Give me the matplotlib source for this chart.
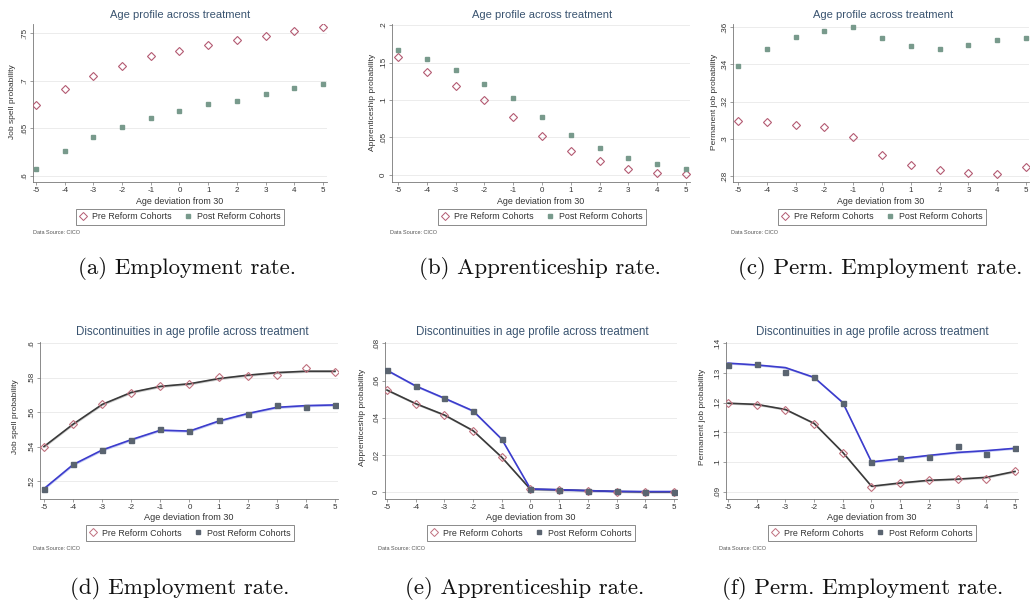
import matplotlib
matplotlib.use("Agg")
import matplotlib.pyplot as plt
from matplotlib.lines import Line2D

plt.rcParams['font.family'] = ['Liberation Sans', 'DejaVu Sans']
plt.rcParams['axes.unicode_minus'] = False

W, H = 1031, 606

ages = [-5, -4, -3, -2, -1, 0, 1, 2, 3, 4, 5]
xtick_labels = ["-5", "-4", "-3", "-2", "-1", "0", "1", "2", "3", "4", "5"]

# (a) Employment rate
emp_pre = [0.674, 0.691, 0.705, 0.7156, 0.726, 0.7314, 0.7374, 0.7423, 0.7472, 0.7525, 0.756]
emp_post = [0.607, 0.6258, 0.6405, 0.6514, 0.6612, 0.6682, 0.6753, 0.6791, 0.6855, 0.6928, 0.6966]
emp_yticks = [0.6, 0.65, 0.7, 0.75]
emp_ylabels = [".6", ".65", ".7", ".75"]

# (b) Apprenticeship rate
app_pre = [0.1577, 0.1374, 0.118, 0.100, 0.0774, 0.0517, 0.0324, 0.0189, 0.0085, 0.0031, 0.0014]
app_post = [0.1666, 0.155, 0.1405, 0.1216, 0.103, 0.0774, 0.053, 0.0355, 0.023, 0.0144, 0.0077]
app_yticks = [0, 0.05, 0.1, 0.15, 0.2]
app_ylabels = ["0", ".05", ".1", ".15", ".2"]

# (c) Permanent employment rate
perm_pre = [0.3097, 0.3088, 0.3074, 0.3065, 0.3011, 0.2913, 0.2857, 0.2831, 0.2818, 0.2812, 0.285]
perm_post = [0.3391, 0.3482, 0.3545, 0.358, 0.3602, 0.3539, 0.3498, 0.348, 0.3505, 0.3529, 0.3539]
perm_yticks = [0.28, 0.30, 0.32, 0.34, 0.36]
perm_ylabels = [".28", ".3", ".32", ".34", ".36"]

# (d) Discontinuities: employment
d_emp_pre = [0.540, 0.553, 0.565, 0.5712, 0.5751, 0.5762, 0.5807, 0.5813, 0.5816, 0.5855, 0.5836]
d_emp_post = [0.5153, 0.5297, 0.538, 0.5439, 0.5501, 0.5491, 0.5555, 0.559, 0.564, 0.5632, 0.5644]
d_emp_pre_fit = [0.540, 0.553, 0.5645, 0.5715, 0.575, 0.5765, 0.5795, 0.5815, 0.583, 0.5838, 0.5838]
d_emp_post_fit = [0.5155, 0.5295, 0.538, 0.544, 0.5495, 0.549, 0.5548, 0.5592, 0.5628, 0.5638, 0.5642]
d_emp_band = 0.0007
d_emp_yticks = [0.52, 0.54, 0.56, 0.58, 0.6]
d_emp_ylabels = [".52", ".54", ".56", ".58", ".6"]

# (e) Discontinuities: apprenticeship
d_app_pre = [0.0549, 0.0476, 0.0415, 0.0331, 0.0188, 0.0016, 0.0013, 0.0009, 0.0004, 0.0002, 0.0002]
d_app_post = [0.0655, 0.0571, 0.0505, 0.0437, 0.0285, 0.0018, 0.0014, 0.0009, 0.0005, 0.0004, 0.0004]
d_app_pre_fit = d_app_pre
d_app_post_fit = d_app_post
d_app_band = 0.0006
d_app_yticks = [0, 0.02, 0.04, 0.06, 0.08]
d_app_ylabels = ["0", ".02", ".04", ".06", ".08"]

# (f) Discontinuities: permanent employment
d_perm_pre = [0.1198, 0.1193, 0.1175, 0.1129, 0.1031, 0.0917, 0.093, 0.0939, 0.0944, 0.0943, 0.0969]
d_perm_post = [0.1328, 0.133, 0.1302, 0.1285, 0.1198, 0.0999, 0.1012, 0.1015, 0.1054, 0.1026, 0.1047]
d_perm_pre_fit = [0.1198, 0.1194, 0.1177, 0.113, 0.1032, 0.0918, 0.0929, 0.0938, 0.0942, 0.0948, 0.0968]
d_perm_post_fit = [0.1333, 0.1327, 0.1318, 0.1285, 0.120, 0.100, 0.1011, 0.1022, 0.1032, 0.1038, 0.1046]
d_perm_band = 0.00035
d_perm_yticks = [0.09, 0.10, 0.11, 0.12, 0.13, 0.14]
d_perm_ylabels = [".09", ".1", ".11", ".12", ".13", ".14"]

titles_top = "Age profile across treatment"
titles_bot = "Discontinuities in age profile across treatment"
xlabel = "Age deviation from 30"
legend_labels = ["Pre Reform Cohorts", "Post Reform Cohorts"]
source_text = "Data Source: CICO"
ylabels = ["Job spell probability", "Apprenticeship probability", "Permanent job probability"]
captions = ["(a) Employment rate.", "(b) Apprenticeship rate.", "(c) Perm. Employment rate.",
            "(d) Employment rate.", "(e) Apprenticeship rate.", "(f) Perm. Employment rate."]

PRE_C = '#b35a72'
POST_C = '#789a8c'
TITLE_C = '#3a5470'
TXT_C = '#333333'
AX_C = '#777777'

fig = plt.figure(figsize=(W / 100, H / 100), dpi=100)


def px_axes(left, right, top, bottom):
    return fig.add_axes([left / W, 1 - bottom / H, (right - left) / W, (bottom - top) / H])


def style_axes(ax, xlim, ylim, yticks, ylabs):
    ax.set_xlim(*xlim)
    ax.set_ylim(*ylim)
    ax.set_xticks(ages)
    ax.set_xticklabels(xtick_labels)
    ax.set_yticks(yticks)
    ax.set_yticklabels(ylabs, rotation=90, va='center')
    for s in ['top', 'right']:
        ax.spines[s].set_visible(False)
    for s in ['left', 'bottom']:
        ax.spines[s].set_color(AX_C)
        ax.spines[s].set_linewidth(0.6)
    ax.tick_params(axis='both', length=2.5, width=0.5, color=AX_C, labelsize=5.8,
                   labelcolor=TXT_C, pad=1)
    for yt in yticks:
        ax.axhline(yt, color='#ececec', lw=0.7, zorder=0)


def add_legend(ax, cx, cy, pre_color, post_color):
    handles = [Line2D([], [], ls='none', marker='D', markersize=3.6, mfc='none',
                      mec=pre_color, mew=0.7),
               Line2D([], [], ls='none', marker='s', markersize=3.2, mfc=post_color,
                      mec=post_color)]
    leg = ax.legend(handles, legend_labels, loc='center', ncol=2,
                    bbox_to_anchor=(cx / W, 1 - cy / H), bbox_transform=fig.transFigure,
                    fontsize=6.4, frameon=True, fancybox=False, handlelength=0.8,
                    handletextpad=0.6, columnspacing=1.5, borderpad=0.35)
    leg.get_frame().set_edgecolor('#555555')
    leg.get_frame().set_linewidth(0.6)
    for t in leg.get_texts():
        t.set_color(TXT_C)


top_specs = [
    dict(box=(33, 327, 24, 182), xlim=(-5.105, 5.14), ylim=(0.5937, 0.7594),
         yt=emp_yticks, yl=emp_ylabels, pre=emp_pre, post=emp_post,
         title_x=180, ylab_x=13, leg_x=180, src_x=33, cap_x=187, lab=ylabels[0]),
    dict(box=(392, 690, 24, 182), xlim=(-5.21, 5.14), ylim=(-0.0095, 0.2014),
         yt=app_yticks, yl=app_ylabels, pre=app_pre, post=app_post,
         title_x=542, ylab_x=373, leg_x=542, src_x=390, cap_x=540, lab=ylabels[1]),
    dict(box=(733, 1029, 24, 182), xlim=(-5.17, 5.10), ylim=(0.2768, 0.3616),
         yt=perm_yticks, yl=perm_ylabels, pre=perm_pre, post=perm_post,
         title_x=883, ylab_x=714, leg_x=882, src_x=731, cap_x=880, lab=ylabels[2]),
]

for i, sp in enumerate(top_specs):
    ax = px_axes(*sp['box'])
    style_axes(ax, sp['xlim'], sp['ylim'], sp['yt'], sp['yl'])
    ax.plot(ages, sp['pre'], ls='none', marker='D', markersize=4.2, mfc='none',
            mec=PRE_C, mew=0.8, zorder=3)
    ax.plot(ages, sp['post'], ls='none', marker='s', markersize=3.4, mfc=POST_C,
            mec=POST_C, zorder=3)
    fig.text(sp['title_x'] / W, 1 - 15 / H, titles_top, ha='center', va='center',
             fontsize=8, color=TITLE_C)
    fig.text(sp['ylab_x'] / W, 1 - 102 / H, sp['lab'], rotation=90, ha='center',
             va='center', fontsize=6.0, color=TXT_C)
    fig.text((sp['box'][0] + sp['box'][1]) / 2 / W, 1 - 201 / H, xlabel, ha='center',
             va='center', fontsize=6.4, color=TXT_C)
    add_legend(ax, sp['leg_x'], 217, PRE_C, POST_C)
    fig.text(sp['src_x'] / W, 1 - 233 / H, source_text, ha='left', va='center',
             fontsize=4, color='#555555')
    fig.text(sp['cap_x'] / W, 1 - 268 / H, captions[i], ha='center', va='center',
             fontsize=16.5, family='cmr10', color='#111111')

D_PRE_M = '#c0707e'
D_POST_M = '#5a6470'
D_PRE_L = '#3a3a3a'
D_POST_L = '#3c3ccc'

bot_specs = [
    dict(box=(40, 338, 342, 499), xlim=(-5.137, 5.103), ylim=(0.5095, 0.6008),
         yt=d_emp_yticks, yl=d_emp_ylabels, pre=d_emp_pre, post=d_emp_post,
         pref=d_emp_pre_fit, postf=d_emp_post_fit, band=d_emp_band,
         title_x=192, ylab_x=16, leg_x=190, src_x=33, cap_x=180, lab=ylabels[0]),
    dict(box=(385, 677, 342, 499), xlim=(-5.07, 5.105), ylim=(-0.0036, 0.0807),
         yt=d_app_yticks, yl=d_app_ylabels, pre=d_app_pre, post=d_app_post,
         pref=d_app_pre_fit, postf=d_app_post_fit, band=d_app_band,
         title_x=532, ylab_x=362, leg_x=531, src_x=378, cap_x=525, lab=ylabels[1]),
    dict(box=(726, 1018, 342, 499), xlim=(-5.07, 5.105), ylim=(0.0875, 0.14044),
         yt=d_perm_yticks, yl=d_perm_ylabels, pre=d_perm_pre, post=d_perm_post,
         pref=d_perm_pre_fit, postf=d_perm_post_fit, band=d_perm_band,
         title_x=872, ylab_x=703, leg_x=872, src_x=719, cap_x=863, lab=ylabels[2]),
]

for i, sp in enumerate(bot_specs):
    ax = px_axes(*sp['box'])
    style_axes(ax, sp['xlim'], sp['ylim'], sp['yt'], sp['yl'])
    b = sp['band']
    ax.fill_between(ages, [v - b for v in sp['pref']], [v + b for v in sp['pref']],
                    color='#cfcfcf', lw=0, zorder=1)
    ax.fill_between(ages, [v - b for v in sp['postf']], [v + b for v in sp['postf']],
                    color='#c4caf4', lw=0, zorder=1)
    ax.plot(ages, sp['pref'], color=D_PRE_L, lw=1.2, zorder=2)
    ax.plot(ages, sp['postf'], color=D_POST_L, lw=1.2, zorder=2)
    ax.plot(ages, sp['pre'], ls='none', marker='D', markersize=4.0, mfc='none',
            mec=D_PRE_M, mew=0.8, zorder=3)
    ax.plot(ages, sp['post'], ls='none', marker='s', markersize=3.6, mfc=D_POST_M,
            mec=D_POST_M, zorder=3)
    fig.text(sp['title_x'] / W, 1 - 332 / H, titles_bot, ha='center', va='center',
             fontsize=8.3, color=TITLE_C)
    fig.text(sp['ylab_x'] / W, 1 - 417 / H, sp['lab'], rotation=90, ha='center',
             va='center', fontsize=6.0, color=TXT_C)
    fig.text((sp['box'][0] + sp['box'][1]) / 2 / W, 1 - 518 / H, xlabel, ha='center',
             va='center', fontsize=6.6, color=TXT_C)
    add_legend(ax, sp['leg_x'], 533, D_PRE_M, D_POST_M)
    fig.text(sp['src_x'] / W, 1 - 548 / H, source_text, ha='left', va='center',
             fontsize=4, color='#555555')
    fig.text(sp['cap_x'] / W, 1 - 588 / H, captions[3 + i], ha='center', va='center',
             fontsize=16.5, family='cmr10', color='#111111')

fig.savefig('out.png', dpi=100, facecolor='white')
